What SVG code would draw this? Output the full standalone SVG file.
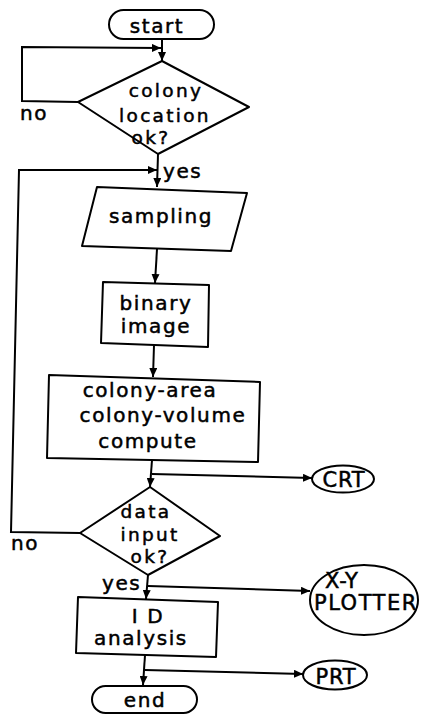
<svg xmlns="http://www.w3.org/2000/svg" width="424" height="715" viewBox="0 0 424 715">
  <style>
    .shape { fill: #fff; stroke: #000; stroke-width: 2; stroke-linejoin: round; }
    .wire { fill: none; stroke: #000; stroke-width: 2; }
    .t { font-family: "DejaVu Sans", "Liberation Sans", sans-serif; font-size: 20px; letter-spacing: 1.6px; fill: #000; stroke: #000; stroke-width: 0.5px; text-anchor: middle; }
    .d { font-size: 18.5px; letter-spacing: 2.3px; }
    .caps { font-size: 21px; letter-spacing: 0.8px; }
    .lbl { text-anchor: start; }
  </style>
  <defs>
    <marker id="arrow" markerUnits="userSpaceOnUse" markerWidth="10" markerHeight="8" refX="9" refY="4" orient="auto">
      <path d="M0,0 L9,4 L0,8 Z" fill="#000"/>
    </marker>
  </defs>
  <rect width="424" height="715" fill="#fff"/>

  <!-- connectors -->
  <g id="connectors">
    <path class="wire" d="M162,39 L162,61" marker-end="url(#arrow)"/>
    <path class="wire" d="M78,102 L22,101 L22,47 L161,48" marker-end="url(#arrow)"/>
    <path class="wire" d="M158,154 L157,187" marker-end="url(#arrow)"/>
    <path class="wire" d="M80,533 L11,532 L19,170 L157,170" marker-end="url(#arrow)"/>
    <path class="wire" d="M157,249 L155,283" marker-end="url(#arrow)"/>
    <path class="wire" d="M154,345 L153,377" marker-end="url(#arrow)"/>
    <path class="wire" d="M152,460 L150,487" marker-end="url(#arrow)"/>
    <path class="wire" d="M152,474 L312,478" marker-end="url(#arrow)"/>
    <path class="wire" d="M148,575 L146,599" marker-end="url(#arrow)"/>
    <path class="wire" d="M148,586 L310,591" marker-end="url(#arrow)"/>
    <path class="wire" d="M145,655 L143,685" marker-end="url(#arrow)"/>
    <path class="wire" d="M145,670 L303,674" marker-end="url(#arrow)"/>
    <text class="t lbl" x="20" y="120">no</text>
    <text class="t lbl" x="163" y="178">yes</text>
    <text class="t lbl" x="11" y="550">no</text>
    <text class="t lbl" x="102" y="590">yes</text>
  </g>

  <!-- start terminator -->
  <g id="start">
    <rect class="shape" x="109" y="10" width="105" height="29" rx="14.5"/>
    <text class="t" x="157" y="33">start</text>
  </g>

  <!-- colony location decision -->
  <g id="location-check">
    <path class="shape" d="M162,61 L249,107 L158,154 L78,102 Z"/>
    <text class="t d" x="166" y="97">colony</text>
    <text class="t d" x="165" y="122">location</text>
    <text class="t d" x="151" y="144">ok?</text>
  </g>

  <!-- sampling input -->
  <g id="sampling">
    <path class="shape" d="M97,187 L247,193 L231,251 L82,246 Z"/>
    <text class="t" x="161" y="223">sampling</text>
  </g>

  <!-- binary image -->
  <g id="binary-image">
    <path class="shape" d="M103,282 L209,285 L208,347 L101,343 Z"/>
    <text class="t" x="156" y="310">binary</text>
    <text class="t" x="156" y="333">image</text>
  </g>

  <!-- colony computation -->
  <g id="compute">
    <path class="shape" d="M49,375 L260,382 L258,462 L47,458 Z"/>
    <text class="t" x="150" y="397">colony-area</text>
    <text class="t" x="163" y="422">colony-volume</text>
    <text class="t" x="148" y="448">compute</text>
  </g>

  <!-- data input decision -->
  <g id="data-check">
    <path class="shape" d="M150,487 L220,536 L148,575 L80,533 Z"/>
    <text class="t d" x="146" y="518">data</text>
    <text class="t d" x="150" y="541">input</text>
    <text class="t d" x="150" y="563">ok?</text>
  </g>

  <!-- CRT display -->
  <g id="crt">
    <ellipse class="shape" cx="343" cy="479" rx="31" ry="13.5"/>
    <text class="t caps" x="344" y="487">CRT</text>
  </g>

  <!-- X-Y plotter -->
  <g id="plotter">
    <ellipse class="shape" cx="364" cy="600" rx="54" ry="35"/>
    <text class="t caps lbl" x="325" y="588">X-Y</text>
    <text class="t caps lbl" x="314" y="610" style="letter-spacing:1.5px">PLOTTER</text>
  </g>

  <!-- 1D analysis -->
  <g id="analysis">
    <path class="shape" d="M78,597 L218,602 L216,657 L76,653 Z"/>
    <text class="t" x="148" y="623">I D</text>
    <text class="t" x="141" y="645">analysis</text>
  </g>

  <!-- printer -->
  <g id="prt">
    <ellipse class="shape" cx="335" cy="675" rx="32" ry="14.5"/>
    <text class="t caps" x="336" y="684">PRT</text>
  </g>

  <!-- end terminator -->
  <g id="end">
    <rect class="shape" x="92" y="686" width="105" height="27" rx="13.5"/>
    <text class="t" x="145" y="707">end</text>
  </g>
</svg>
